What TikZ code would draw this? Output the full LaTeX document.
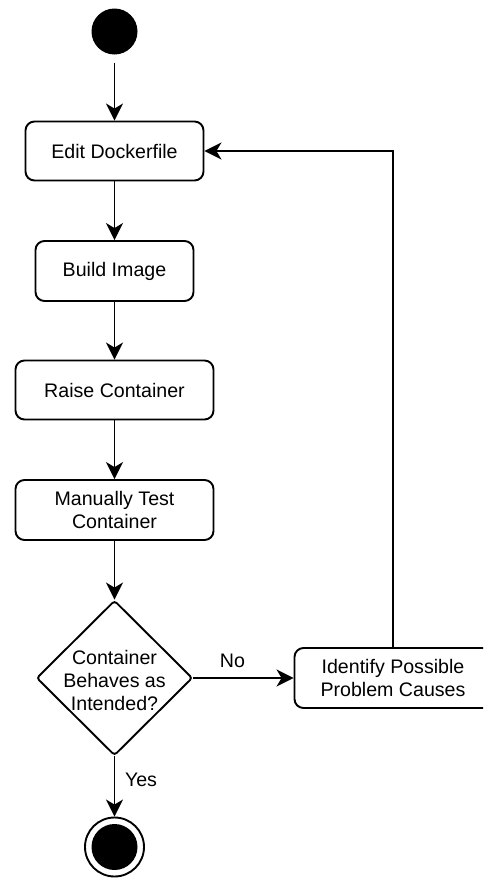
\documentclass[tikz,border=0pt]{standalone}
\usepackage{fontspec}
\setmainfont{Liberation Sans}
\usetikzlibrary{arrows.meta,shapes.geometric}
\begin{document}
\begin{tikzpicture}[x=1pt,y=-1pt,
  txt/.style={font=\fontsize{19.6}{23}\selectfont, align=center, inner sep=0pt},
  action/.style={txt, draw, line width=1.9pt, rounded corners=9pt},
  link/.style={line width=1.9pt, -{Stealth[length=17pt,width=17pt,inset=5pt]}},
  lbl/.style={txt, anchor=center}]
\useasboundingbox (0,0) rectangle (483,878);
\clip (0,0) rectangle (483,878);

% start and end states
\node[circle, fill=black, inner sep=0pt, minimum size=46pt] (start) at (114.5,31.5) {};
\node[circle, draw, line width=1.9pt, inner sep=0pt, minimum size=59pt] (finish) at (114.5,847) {};
\fill (finish.center) circle (23pt);

% actions
\node[action, minimum width=178pt, minimum height=59pt] (edit)  at (114.5,151) {Edit Dockerfile};
\node[action, minimum width=158pt, minimum height=60pt] (build) at (114.5,271) {Build Image};
\node[action, minimum width=198pt, minimum height=59pt] (raise) at (114.5,390) {Raise Container};
\node[action, minimum width=198pt, minimum height=60pt] (test)  at (114.5,510) {Manually Test\\Container};
\node[action, minimum width=197pt, minimum height=60pt] (ident) at (393,678) {Identify Possible\\Problem Causes};

% decision
\node[diamond, draw, line width=1.9pt, rounded corners=3pt, inner sep=0pt,
      minimum width=156pt, minimum height=155pt] (dec) at (114.5,678) {};
\node[txt] (dectext) at (114.5,680) {Container\\Behaves as\\Intended?};

% connectors
\draw[link, shorten <=8pt] (start) -- (edit);
\draw[link] (edit) -- (build);
\draw[link] (build) -- (raise);
\draw[link] (raise) -- (test);
\draw[link] (test) -- (dec.north);
\draw[link] (dec.east) -- node[lbl, pos=0.39, yshift=17pt] {No} (ident.west);
\draw[link] (dec.south) -- node[lbl, pos=0.39, xshift=26.5pt] {Yes} (finish.north);
\draw[link] (ident.north) |- (edit.east);
\end{tikzpicture}
\end{document}
